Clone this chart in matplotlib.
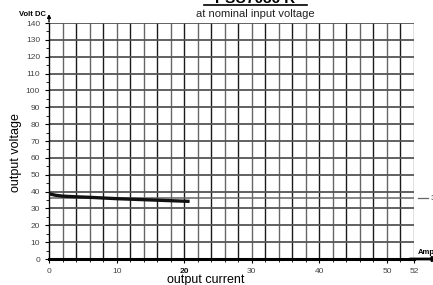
import matplotlib.pyplot as plt
import numpy as np

plt.rcParams['font.family'] = ['Liberation Sans', 'DejaVu Sans']

# curve data: output current (A) vs output voltage (V DC)
current = [0, 1, 2, 4, 6, 8, 10, 12, 14, 16, 18, 20, 20.8]
voltage = [38.7, 37.8, 37.3, 36.9, 36.6, 36.2, 35.8, 35.5, 35.2, 34.9, 34.6, 34.3, 34.2]

nominal_v = 36
x_ticks = [0, 10, 20, 30, 40, 50, 54]
x_labels = ['0', '10', '20', '30', '40', '50', '52']
y_ticks = list(range(0, 141, 10))

fig = plt.figure(figsize=(4.33, 2.85), dpi=100)
ax = fig.add_axes([0.1132, 0.0912, 0.8429, 0.828])
ax.set_xlim(0, 54)
ax.set_ylim(0, 140)

# grid
for i, x in enumerate(np.arange(2, 55, 2)):
    ax.axvline(x, color='#1a1a1a' if i % 2 else '#666666', lw=1.0, zorder=1)
for y in y_ticks[1:]:
    ax.axhline(y, color='#555555', lw=1.3, zorder=1)
ax.axhline(nominal_v, color='#666666', lw=1.1, zorder=1)

ax.plot(current, voltage, color='#111111', lw=2.4, solid_capstyle='butt', zorder=3)

for s in ['top', 'right']:
    ax.spines[s].set_visible(False)
ax.spines['left'].set_linewidth(1.0)
ax.spines['bottom'].set_linewidth(2.2)

ax.set_xticks(x_ticks)
ax.set_xticklabels(x_labels)
ax.set_xticks(np.arange(0, 55, 2), minor=True)
ax.set_yticks(y_ticks)
ax.set_yticks(range(0, 141, 5), minor=True)
ax.tick_params(axis='both', which='major', labelsize=6, labelcolor='#444444', length=3, width=0.8)
ax.tick_params(axis='both', which='minor', length=2, width=0.6)
for lbl in ax.get_xticklabels():
    if lbl.get_text() == '20':
        lbl.set_fontweight('bold')
        lbl.set_color('#111111')

# axis arrows
ax.annotate('', xy=(0, 147), xytext=(0, 139), xycoords='data',
            arrowprops=dict(arrowstyle='-|>', color='black', lw=1.0, mutation_scale=5),
            annotation_clip=False)
ax.annotate('', xy=(58, 0), xytext=(53, 0), xycoords='data',
            arrowprops=dict(arrowstyle='-|>', color='black', lw=2.0, mutation_scale=6),
            annotation_clip=False)
ax.text(-0.5, 143, 'Volt DC', fontsize=5.5, fontweight='bold', ha='right', va='bottom')
ax.text(54.6, 2, 'Amp', fontsize=5.5, fontweight='bold', ha='left', va='bottom', clip_on=False)

# nominal voltage marker on the right
ax.plot([54.6, 56.0], [nominal_v, nominal_v], color='#666666', lw=0.9, clip_on=False)
ax.text(56.4, nominal_v, '36', fontsize=6, color='#444444', va='center', ha='left')

ax.set_xlabel('output current', fontsize=9)
ax.xaxis.set_label_coords(0.43, -0.065)
ax.set_ylabel('output voltage', fontsize=9)
ax.yaxis.set_label_coords(-0.075, 0.45)

fig.text(0.59, 0.99, 'PSU7036 R', fontsize=11, fontweight='bold', ha='center', va='baseline')
fig.add_artist(plt.Line2D([0.47, 0.71], [0.982, 0.982], color='black', lw=1.2))
fig.text(0.59, 0.951, 'at nominal input voltage', fontsize=8, color='#222222', ha='center', va='center')

fig.savefig('out.png', dpi=100)
